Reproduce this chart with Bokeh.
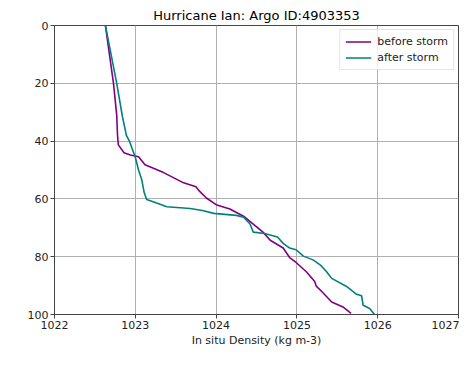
from bokeh.plotting import figure
from bokeh.models import Range1d, FixedTicker, Legend, LegendItem
from bokeh.embed import file_html
from bokeh.resources import INLINE

title_text = "Hurricane Ian: Argo ID:4903353"
x_label = "In situ Density (kg m-3)"

before_density = [1022.63, 1022.68, 1022.73, 1022.77, 1022.78, 1022.79, 1022.86, 1022.94,
                  1023.04, 1023.08, 1023.12, 1023.35, 1023.58, 1023.75, 1023.80, 1023.88,
                  1024.00, 1024.17, 1024.34, 1024.46, 1024.58, 1024.67, 1024.83, 1024.91,
                  1024.99, 1025.12, 1025.22, 1025.24, 1025.32, 1025.43, 1025.57, 1025.67]
before_depth = [0, 10, 20, 31, 38, 41.3, 44, 44.8,
                45.4, 46.8, 48.2, 50.9, 54.2, 55.8, 57.5, 59.7,
                62, 63.5, 66, 68.7, 71.5, 74.3, 77, 80.3,
                82, 85.3, 88.6, 90.2, 92.4, 95.7, 97.4, 99.6]

after_density = [1022.63, 1022.70, 1022.77, 1022.84, 1022.89, 1022.93, 1023.00, 1023.04,
                 1023.08, 1023.11, 1023.14, 1023.23, 1023.39, 1023.68, 1023.83, 1023.97,
                 1024.25, 1024.34, 1024.42, 1024.46, 1024.60, 1024.76, 1024.83, 1024.91,
                 1024.99, 1025.08, 1025.20, 1025.30, 1025.37, 1025.43, 1025.61, 1025.74,
                 1025.80, 1025.82, 1025.90, 1025.96]
after_depth = [0, 10, 20, 31.4, 38, 40.2, 45.6, 50,
               53.4, 57.8, 60.2, 61.1, 62.7, 63.3, 64.0, 65.0,
               65.7, 66.3, 68.7, 71.5, 72.0, 73.2, 75.4, 77.0,
               77.6, 79.8, 81.1, 83.1, 85.3, 87.5, 90.2, 93.0,
               93.5, 96.8, 97.9, 100]

x_ticks = [1022, 1023, 1024, 1025, 1026, 1027]
y_ticks = [0, 20, 40, 60, 80, 100]
series_names = ["before storm", "after storm"]
series_colors = ["purple", "teal"]

FONT = "DejaVu Sans"
AX = "#444444"

p = figure(width=459, height=349, output_backend="svg", toolbar_location=None,
           x_range=Range1d(1022, 1027), y_range=Range1d(100, 0),
           min_border_left=54, min_border_right=1, min_border_top=25, min_border_bottom=0)

p.title.text = title_text
p.title.align = "center"
p.title.text_font = FONT
p.title.text_font_size = "13px"
p.title.text_font_style = "normal"
p.title.text_color = "#000000"
p.title.standoff = 5

p.outline_line_color = AX
p.outline_line_width = 1

for ax in (p.xaxis[0], p.yaxis[0]):
    ax.axis_line_color = AX
    ax.major_tick_line_color = AX
    ax.major_tick_out = 4
    ax.major_tick_in = 0
    ax.minor_tick_line_color = None
    ax.major_label_text_font = FONT
    ax.major_label_text_font_size = "11px"
    ax.major_label_text_color = "#222222"
    ax.major_label_standoff = 2

p.xaxis.ticker = FixedTicker(ticks=x_ticks)
p.yaxis.ticker = FixedTicker(ticks=y_ticks)
p.xaxis.axis_label = x_label
p.xaxis.axis_label_text_font = FONT
p.xaxis.axis_label_text_font_size = "11px"
p.xaxis.axis_label_text_font_style = "normal"
p.xaxis.axis_label_text_color = "#222222"
p.xaxis.axis_label_standoff = 2

p.xgrid.ticker = FixedTicker(ticks=x_ticks)
p.ygrid.ticker = FixedTicker(ticks=y_ticks)
p.grid.grid_line_color = "#b0b0b0"
p.grid.grid_line_width = 1

r1 = p.line(before_density, before_depth, line_color=series_colors[0], line_width=1.6)
r2 = p.line(after_density, after_depth, line_color=series_colors[1], line_width=1.6)

legend = Legend(items=[LegendItem(label=series_names[0], renderers=[r1]),
                       LegendItem(label=series_names[1], renderers=[r2])],
                location="top_right")
legend.label_text_font = FONT
legend.label_text_font_size = "11px"
legend.label_text_color = "#222222"
legend.border_line_color = "#cccccc"
legend.background_fill_alpha = 0.8
legend.glyph_width = 26
legend.glyph_height = 13
legend.label_height = 13
legend.label_standoff = 6
legend.spacing = 3
legend.padding = 5
legend.margin = 4
p.add_layout(legend)

open("out.html", "w").write(file_html(p, INLINE))
